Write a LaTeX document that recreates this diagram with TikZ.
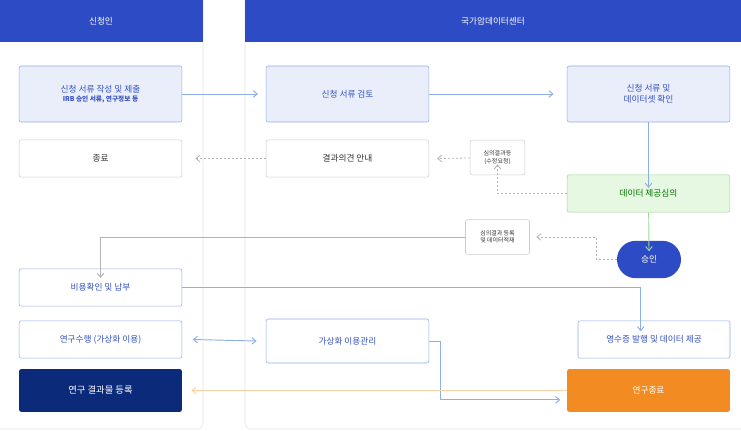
\documentclass[tikz,border=0pt]{standalone}
\usepackage{fontspec}
\setmainfont{Noto Sans CJK KR}
\usetikzlibrary{arrows.meta}
\definecolor{hdblue}{HTML}{2E4BC6}
\definecolor{lightblue}{HTML}{E9EEFA}
\definecolor{lineblue}{HTML}{8FAEE8}
\definecolor{textblue}{HTML}{3552C0}
\definecolor{lightgreen}{HTML}{E6F8E2}
\definecolor{linegreen}{HTML}{9CD896}
\definecolor{navy}{HTML}{0B2A7A}
\definecolor{orange}{HTML}{F28C22}
\tikzset{
  box/.style={rounded corners=1.5pt, draw=lineblue, fill=lightblue, text=textblue, font=\fontsize{6.5}{8}\selectfont, align=center, minimum width=122pt, minimum height=42pt, inner sep=1pt},
  plain/.style={box, draw=black!20, fill=white, text=black!80, minimum height=28pt},
  small/.style={plain, font=\fontsize{4.5}{5.5}\selectfont, minimum width=41pt, minimum height=26pt},
  flow/.style={-{Straight Barb[length=3pt,width=5pt]}, draw=lineblue, line width=0.7pt},
  dotflow/.style={-{Straight Barb[length=3pt,width=5pt]}, draw=black!30, dash pattern=on 1.5pt off 1.5pt, line width=0.6pt}
}
\begin{document}
\begin{tikzpicture}[x=0.75pt, y=-0.75pt]
  \useasboundingbox[fill=white] (0,0) rectangle (741,431);
  % lanes
  \draw[black!10, rounded corners=4pt] (-5,-5) rectangle (203,429);
  \draw[black!10, rounded corners=4pt] (245,-5) rectangle (746,429);
  \fill[hdblue] (0,0) rectangle (203,42);
  \fill[hdblue] (245,0) rectangle (741,42);
  \node[text=white, font=\fontsize{6.5}{8}\selectfont] (lane1) at (101,21) {신청인};
  \node[text=white, font=\fontsize{6.5}{8}\selectfont] (lane2) at (493,21) {국가암데이터센터};
  % steps
  \node[box] (submit) at (100.5,94) {신청 서류 작성 및 제출\\[-1pt]{\fontsize{5}{6}\selectfont\bfseries IRB 승인 서류, 연구정보 등}};
  \node[box] (review) at (347.5,94) {신청 서류 검토};
  \node[box] (check) at (648.5,94) {신청 서류 및\\데이터셋 확인};
  \node[plain] (finish) at (100.5,158.5) {종료};
  \node[plain] (notice) at (347.5,158.5) {결과의견 안내};
  \node[small] (revise) at (497.5,157.5) {심의결과등\\(수정요청)};
  \node[box, draw=linegreen, fill=lightgreen, text=green!45!black, minimum height=28pt] (deliberate) at (648.5,193.5) {데이터 제공심의};
  \node[small, minimum width=48pt] (register) at (497.5,237) {심의결과 등록\\및 데이터적재};
  \node[rounded corners=14pt, fill=hdblue, text=white, font=\fontsize{6.5}{8}\selectfont, minimum width=48pt, minimum height=28pt] (approve) at (649,259.5) {승인};
  \node[plain, draw=lineblue, text=textblue] (payment) at (100.5,287.5) {비용확인 및 납부};
  \node[plain, draw=lineblue, text=textblue] (research) at (100.5,339.5) {연구수행 (가상화 이용)};
  \node[plain, draw=lineblue, text=textblue, minimum height=33pt] (vmanage) at (347.5,341) {가상화 이용관리};
  \node[plain, draw=lineblue, text=textblue, minimum width=114pt] (receipt) at (654,339.5) {영수증 발행 및 데이터 제공};
  \node[box, draw=none, fill=navy, text=white, minimum height=32pt, font=\fontsize{7}{8}\selectfont] (result) at (100.5,390.5) {연구 결과물 등록};
  \node[box, draw=none, fill=orange, text=white, minimum height=32pt] (close) at (648.5,390.5) {연구종료};
  % connectors
  \draw[flow] (submit) -- ([xshift=-6]review.west);
  \draw[flow] (review) -- ([xshift=-10]check.west);
  \draw[flow] (check) -- ([yshift=-10]deliberate.north);
  \draw[dotflow] (notice) -- ([xshift=10]finish.east);
  \draw[dotflow] (revise) -- ([xshift=6]notice.east);
  \draw[dotflow] (deliberate.west) -| ([yshift=8]revise.south);
  \draw[flow, draw=linegreen] (deliberate) -- ([yshift=-8]approve.north);
  \draw[dotflow] (approve.west) -- ++(-20,0) |- ([xshift=5]register.east);
  \draw[flow, draw=black!30] (register.west) -| ([yshift=-7]payment.north);
  \draw[flow] (payment.east) -| ([xshift=-10,yshift=-8]receipt.north);
  \draw[{Straight Barb[length=3pt,width=5pt]}-{Straight Barb[length=3pt,width=5pt]}, draw=lineblue, line width=0.7pt] ([xshift=8]research.east) -- ([xshift=-7]vmanage.west);
  \draw[flow] (vmanage.east) -- ++(11,0) |- ([xshift=-5,yshift=-7]close.west);
  \draw[flow, draw=orange!40] (close) -- ([xshift=7]result.east);
\end{tikzpicture}
\end{document}
